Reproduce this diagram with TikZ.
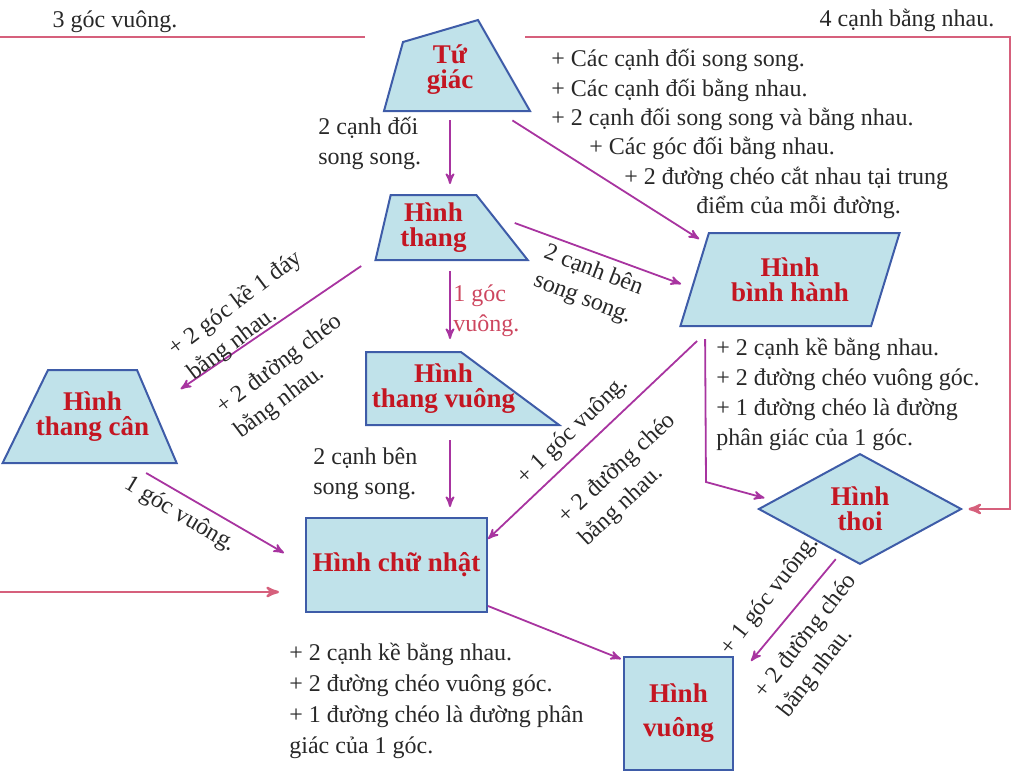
\documentclass[tikz,border=0pt]{standalone}
\usepackage{fontspec}
\setmainfont{Liberation Serif}
\usetikzlibrary{arrows,shapes.geometric}
\definecolor{hinhfill}{RGB}{192,226,234}
\definecolor{hinhline}{RGB}{62,92,168}
\definecolor{hinhtext}{RGB}{196,22,34}
\definecolor{tim}{RGB}{168,52,160}
\definecolor{hong}{RGB}{214,96,124}
\definecolor{hongdo}{RGB}{205,70,95}
\definecolor{chuxam}{RGB}{40,40,40}
\tikzset{
    %Define standard arrow tip
    >=stealth',
    %Define style for shape texts
    chuhinh/.style={
           font=\fontsize{13.5}{12.5}\selectfont\bfseries,
           text=hinhtext,
           align=center},
    %Define style for shapes
    hinh/.style={
           chuhinh,
           draw=hinhline, line width=1pt,
           fill=hinhfill,
           inner sep=1pt},
    hinhthang/.style={
           hinh, trapezium,
           trapezium stretches=true},
    hinhnhat/.style={hinh, rectangle},
    hinhthoi/.style={hinh, diamond},
    % Define label style
    nhan/.style={
           font=\fontsize{12}{15}\selectfont,
           text=chuxam,
           align=left,
           inner sep=0pt},
    % Define arrow styles
    noi/.style={->, draw=tim, line width=0.9pt},
    vong/.style={->, draw=hong, line width=1.2pt}
}
\begin{document}
\begin{tikzpicture}[x=0.5pt,y=-0.5pt]
\useasboundingbox (0,0) rectangle (1024,778);
\clip (0,0) rectangle (1024,778);
 %shapes
\path[hinh] (403,42) -- (478,20) -- (530,111) -- (384,111) -- cycle;
\node[chuhinh, minimum width=73pt, minimum height=46pt, inner sep=0pt] (tugiac) at (450,70) {Tứ\\giác};
\node[hinhthang, trapezium left angle=77, trapezium right angle=52,
      minimum width=76.5pt, minimum height=32.5pt] (thang) at (433.5,227.5) {Hình\\thang};
\node[hinhthang, trapezium left angle=66, trapezium right angle=114,
      minimum width=110pt, minimum height=46.5pt] (binhhanh) at (790,279.5) {Hình\\bình hành};
\node[hinhthang, trapezium left angle=63, trapezium right angle=66,
      minimum width=87pt, minimum height=46.5pt,
      label={[chuhinh]center:{Hình\\thang cân}}] (thangcan) at (92.5,416.5) {};
\node[hinhthang, trapezium left angle=90, trapezium right angle=44,
      minimum width=96.5pt, minimum height=36.5pt,
      label={[chuhinh, xshift=15pt]center:{Hình\\thang vuông}}] (thangvuong) at (413.5,388.5) {};
\node[hinhthoi, minimum width=101.5pt, minimum height=49pt] (thoi) at (860,509) {Hình\\thoi};
\node[hinhnhat, minimum width=90.5pt, minimum height=47pt] (chunhat) at (396.5,565) {Hình chữ nhật};
\node[hinhnhat, minimum width=54.5pt, minimum height=56.5pt,
      font=\fontsize{13.5}{17}\selectfont\bfseries] (vuong) at (678.5,713.5) {Hình\\vuông};
 %loops round the picture
\coordinate (traitren) at (-20,37);
\coordinate (traiduoi) at (-20,592);
\coordinate (phaitren) at (1010,37);
\coordinate (phaiduoi) at (1010,509);
\draw[vong] ([shift={(-12,-33)}]tugiac.west) -- (traitren) -- (traiduoi) -- ([shift={(-26,27)}]chunhat.west);
\draw[vong] ([shift={(2,-33)}]tugiac.east) -- (phaitren) -- (phaiduoi) -- ([xshift=3pt]thoi.east);
 %arrows
\draw[noi, shorten <=2pt, shorten >=5pt] (tugiac.south) -- (tugiac.south |- thang.north);
\draw[noi] ([shift={(-11,4)}]tugiac.south east) -- ([shift={(-9,7)}]binhhanh.top left corner);
\draw[noi] ([shift={(-15,-38)}]thang.bottom right corner) -- ([shift={(2,-43)}]binhhanh.bottom left corner);
\draw[noi, shorten <=5pt, shorten >=6pt] (tugiac.south |- thang.south) -- (tugiac.south |- thangvuong.north);
\draw[noi, shorten <=7pt, shorten >=5pt] (tugiac.south |- thangvuong.south) -- (tugiac.south |- chunhat.north);
\draw[noi] ([shift={(-13,5)}]thang.bottom left corner) -- ([shift={(43,20)}]thangcan.top right corner);
\draw[noi] ([shift={(-32,9)}]thangcan.bottom right corner) -- ([shift={(-21,-12)}]chunhat.west);
\draw[noi] ([shift={(18,14)}]binhhanh.bottom left corner) -- ([shift={(0,22)}]chunhat.north east);
\coordinate (gap) at (706,482);
\draw[noi] ([shift={(26,12)}]binhhanh.bottom left corner) -- (gap) -- ([shift={(7,-11)}]thoi.west);
\draw[noi] ([shift={(27,22)}]thoi.south west) -- ([shift={(17,5)}]vuong.north east);
\draw[noi] ([shift={(0,-7)}]chunhat.south east) -- ([shift={(-2,3)}]vuong.north west);
 %labels
\node[nhan] at (115,22) {3 góc vuông.};
\node[nhan] at (907,20) {4 cạnh bằng nhau.};
\node[nhan, anchor=north west, font=\fontsize{12}{14.7}\selectfont] at (551,49) {+ Các cạnh đối song song.\\+ Các cạnh đối bằng nhau.\\+ 2 cạnh đối song song và bằng nhau.\\\hspace*{19pt}+ Các góc đối bằng nhau.\\\hspace*{36.5pt}+ 2 đường chéo cắt nhau tại trung\\\hspace*{72.5pt}điểm của mỗi đường.};
\node[nhan, anchor=west] at (318,143) {2 cạnh đối\\song song.};
\node[nhan, anchor=west, text=hongdo] at (453,311) {1 góc\\vuông.};
\node[nhan, anchor=west] at (313,474) {2 cạnh bên\\song song.};
\node[nhan, rotate=-21, align=center] at (588,285) {2 cạnh bên\\song song.};
\node[nhan, rotate=37] at (245,316) {+ 2 góc kề 1 đáy\\bằng nhau.};
\node[nhan, rotate=37] at (289,377) {+ 2 đường chéo\\bằng nhau.};
\node[nhan, rotate=-31] at (180,515) {1 góc vuông.};
\node[nhan, rotate=44] at (573,431) {+ 1 góc vuông.};
\node[nhan, rotate=43] at (628,480) {+ 2 đường chéo\\bằng nhau.};
\node[nhan, rotate=52] at (770,596) {+ 1 góc vuông.};
\node[nhan, rotate=52] at (818,646) {+ 2 đường chéo\\bằng nhau.};
\node[nhan, anchor=north west] at (716,338) {+ 2 cạnh kề bằng nhau.\\+ 2 đường chéo vuông góc.\\+ 1 đường chéo là đường\\phân giác của 1 góc.};
\node[nhan, anchor=north west, font=\fontsize{12}{15.5}\selectfont] at (289,643) {+ 2 cạnh kề bằng nhau.\\+ 2 đường chéo vuông góc.\\+ 1 đường chéo là đường phân\\giác của 1 góc.};
\end{tikzpicture}
\end{document}
